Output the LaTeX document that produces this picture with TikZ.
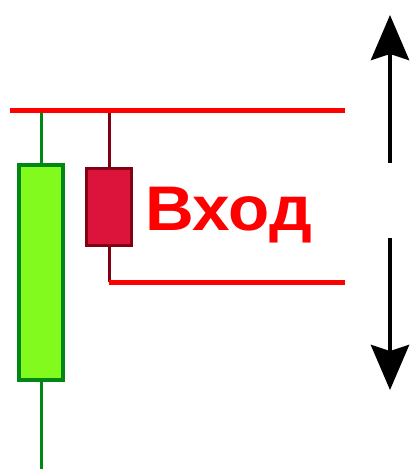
\documentclass[tikz,border=0pt]{standalone}
\usepackage{fontspec}
\setmainfont{Liberation Sans}
\usetikzlibrary{arrows.meta}
\definecolor{bullfill}{RGB}{130,250,30}
\definecolor{bulledge}{RGB}{0,135,20}
\definecolor{bearfill}{RGB}{220,20,60}
\definecolor{bearedge}{RGB}{130,0,20}
\tikzset{
  level/.style={draw=red, line width=5pt},
  bullwick/.style={draw=bulledge, line width=3pt},
  bearwick/.style={draw=bearedge, line width=3pt},
  move/.style={line width=4.5pt, -{Stealth[length=45pt,width=38pt,inset=6pt]}}
}
\begin{document}
\begin{tikzpicture}[x=1pt,y=-1pt]
    \useasboundingbox (0,0) rectangle (414,469);
    % price levels
    \coordinate (hiL) at (10,110);
    \coordinate (hiR) at (345,110);
    \coordinate (loL) at (109,282);
    \coordinate (loR) at (345,282);
    \node (bull) [draw=bulledge, fill=bullfill, line width=3.5pt, minimum width=44pt, minimum height=215pt, inner sep=0] at (41,272.5) {};
    \node (bear) [draw=bearedge, fill=bearfill, line width=3.5pt, minimum width=45pt, minimum height=77pt, inner sep=0] at (109,207) {};
    \node (entry) [anchor=base west, inner sep=0, text=red, font=\fontsize{63}{63}\selectfont\bfseries] at (145,230) {\scalebox{1.07}[1]{Вход}};
    \coordinate (bullhi) at (41,110);
    \coordinate (bulllo) at (41,469);
    \coordinate (bearhi) at (109,110);
    \coordinate (up0) at (390,163);
    \coordinate (up1) at (390,15);
    \coordinate (dn0) at (390,238);
    \coordinate (dn1) at (390,390);
    \draw[bullwick] (bullhi) -- (bull.north);
    \draw[bullwick] (bull.south) -- (bulllo);
    \draw[bearwick] (bearhi) -- (bear.north);
    \draw[bearwick] (bear.south) -- (loL);
    \draw[level] (hiL) -- (hiR);
    \draw[level] (loL) -- (loR);
    \draw[move] (up0) -- (up1);
    \draw[move] (dn0) -- (dn1);
  \end{tikzpicture}
\end{document}
